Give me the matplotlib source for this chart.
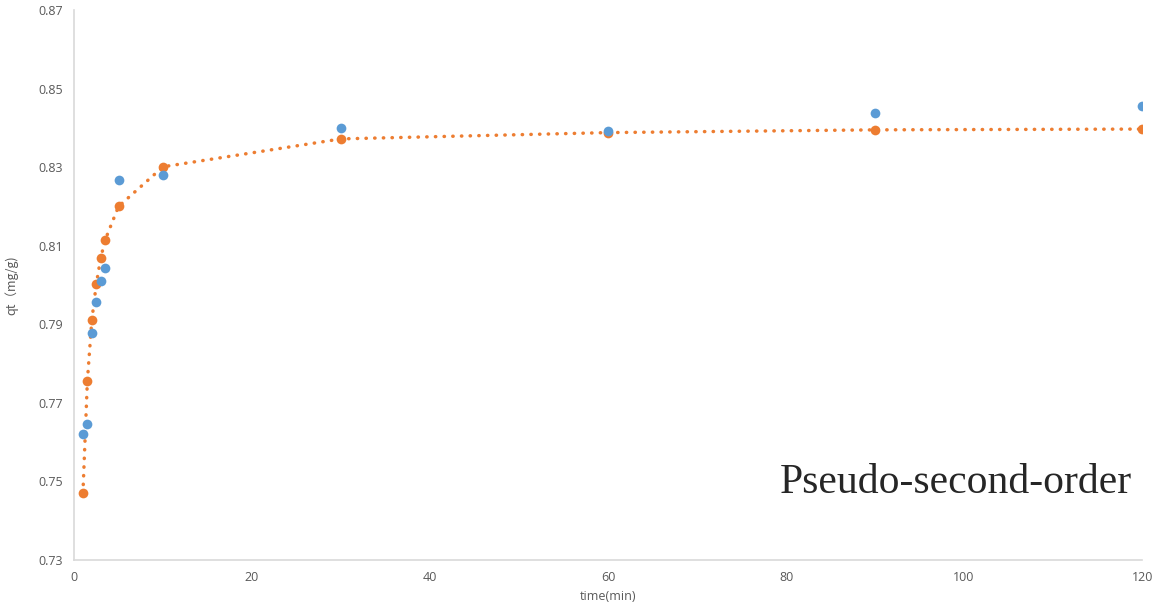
import matplotlib
matplotlib.use("Agg")
import matplotlib.pyplot as plt

# data
time_min = [1, 1.5, 2, 2.5, 3, 3.5, 5, 10, 30, 60, 90, 120]
qt_measured = [0.7621, 0.7646, 0.7878, 0.7956, 0.8010, 0.8043, 0.8267, 0.8280,
               0.8400, 0.8392, 0.8438, 0.8456]
qt_model = [0.7470, 0.7756, 0.7911, 0.8002, 0.8069, 0.8115, 0.8200, 0.8301,
            0.8372, 0.8388, 0.8395, 0.8397]

x_ticks = [0, 20, 40, 60, 80, 100, 120]
y_ticks = [0.73, 0.75, 0.77, 0.79, 0.81, 0.83, 0.85, 0.87]

BLUE = "#5b9bd5"
ORANGE = "#ed7d31"
GREY = "#595959"

fig = plt.figure(figsize=(11.75, 6.15), dpi=100)
ax = fig.add_axes([0.063, 0.0894, 0.909, 0.8943])

ax.plot(time_min, qt_model, color=ORANGE, lw=2.5, linestyle=(0, (0.1, 2.4)),
        dash_capstyle="round", zorder=2)
ax.plot(time_min, qt_model, "o", color=ORANGE, ms=7, mec="none", zorder=3)
ax.plot(time_min, qt_measured, "o", color=BLUE, ms=7, mec="none", zorder=4)

ax.set_xlim(0, 120)
ax.set_ylim(0.73, 0.87)
ax.set_xticks(x_ticks)
ax.set_yticks(y_ticks)
ax.set_xticklabels([str(v) for v in x_ticks])
ax.set_yticklabels([f"{v:.2f}" for v in y_ticks])
ax.tick_params(length=0, labelsize=9, colors=GREY, pad=8)
for lab in ax.get_xticklabels() + ax.get_yticklabels():
    lab.set_family(["Open Sans", "DejaVu Sans"])

for side in ("top", "right"):
    ax.spines[side].set_visible(False)
for side in ("left", "bottom"):
    ax.spines[side].set_color("#d9d9d9")
    ax.spines[side].set_linewidth(1.2)

ax.set_xlabel("time(min)", fontsize=9, color=GREY, labelpad=4,
              family=["Open Sans", "DejaVu Sans"])
ax.set_ylabel("qt（mg/g)", fontsize=9, color=GREY, labelpad=14,
              family=["Noto Sans CJK SC", "DejaVu Sans"])

ax.text(0.99, 0.14, "Pseudo-second-order", transform=ax.transAxes,
        ha="right", va="center", fontsize=30, color="#262626",
        family="Liberation Serif")

fig.savefig("out.png", dpi=100)
